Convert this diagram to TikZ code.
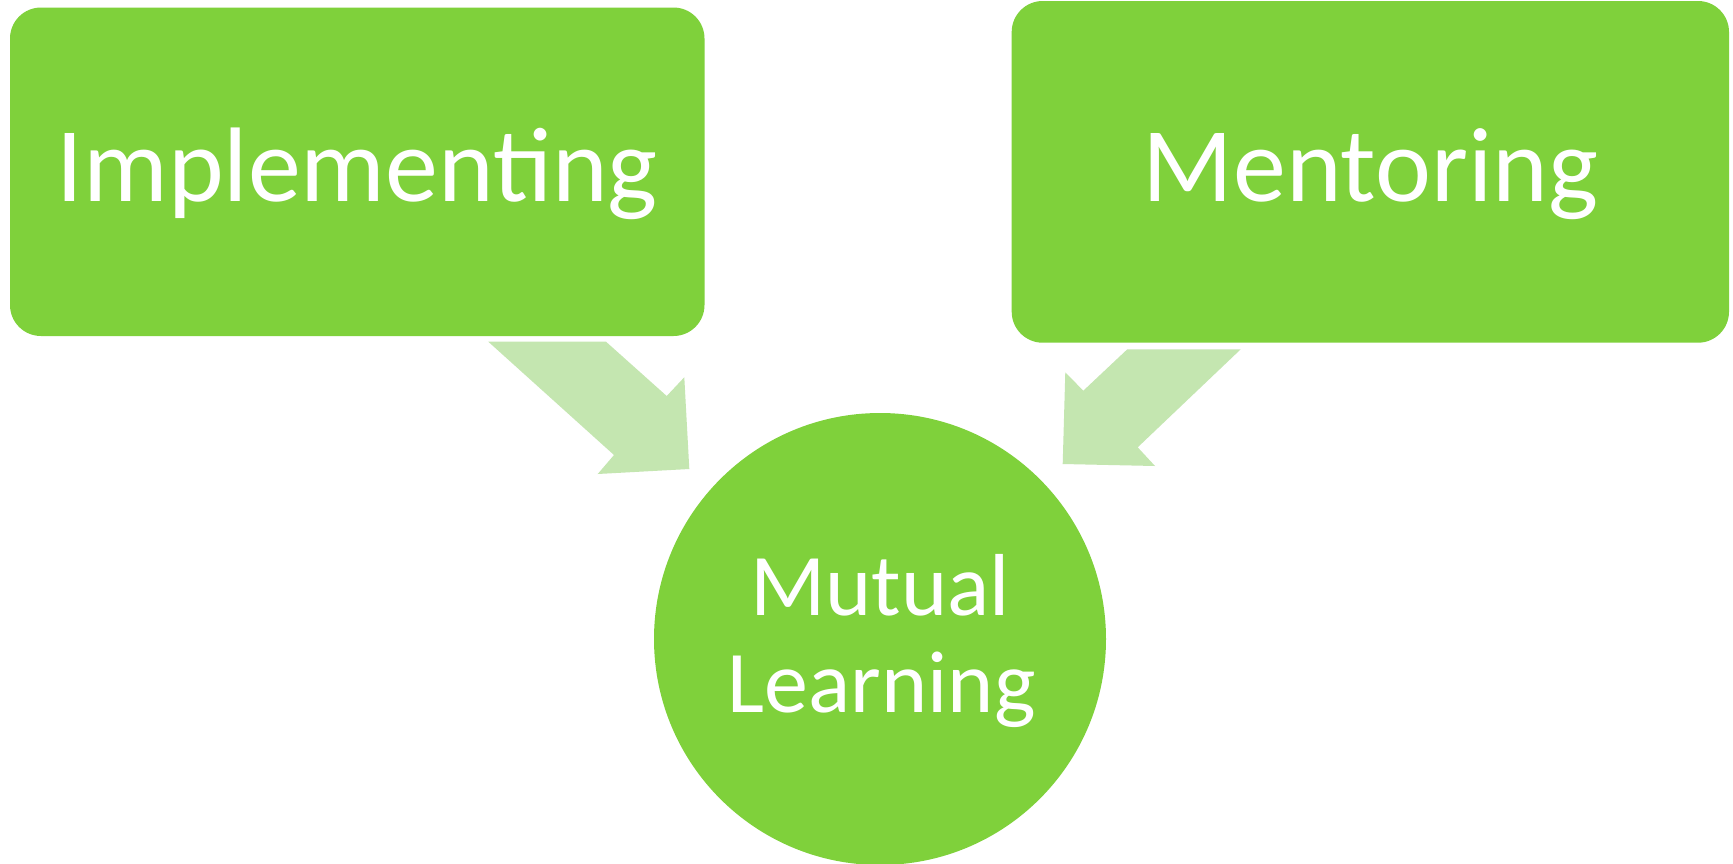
\documentclass[tikz,border=0pt]{standalone}
\usepackage{fontspec}
\setmainfont{Carlito}
\definecolor{dgreen}{RGB}{127,209,59}
\definecolor{lgreen}{RGB}{196,230,176}
\begin{document}
\begin{tikzpicture}[x=1pt,y=-1pt,
  box/.style={fill=dgreen, draw=none, rounded corners=31pt, inner sep=0pt,
    text=white, font=\fontsize{106}{116}\selectfont, text height=67pt, text depth=7pt},
  roundnode/.style={circle, fill=dgreen, draw=none, inner sep=0pt, minimum size=452pt},
  mltext/.style={anchor=base, text=white, inner sep=0pt, font=\fontsize{88}{97}\selectfont},
  blockarrow/.style={fill=lgreen, draw=none}]
\useasboundingbox (0,0) rectangle (1733,863);
\fill[white] (0,0) rectangle (1733,863);
% boxes
\node[box, minimum width=694.5pt, minimum height=328.5pt] (impl) at (357.25,171.75) {Implementing};
\node[box, minimum width=1717.3pt-1000pt, minimum height=341.7pt] (ment) at (1370.35,171.85) {Mentoring};
% circle
\node[roundnode] (ml) at (880,639) {};
\node[mltext] (mlA) at (880,615) {Mutual};
\node[mltext] (mlB) at (881.7,712.3) {Learning};
% block arrows
\fill[blockarrow] (488.3,341.7) -- (606,341.7) -- (666.7,396) -- (684.3,377.3)
  -- (689.3,469) -- (597.7,474) -- (614,455) -- cycle;
\fill[blockarrow] (1127.3,349.3) -- (1240.7,349.3) -- (1137.7,447.3) -- (1155,466)
  -- (1062.7,464) -- (1065.3,372.3) -- (1083.3,390.7) -- cycle;
\end{tikzpicture}
\end{document}
